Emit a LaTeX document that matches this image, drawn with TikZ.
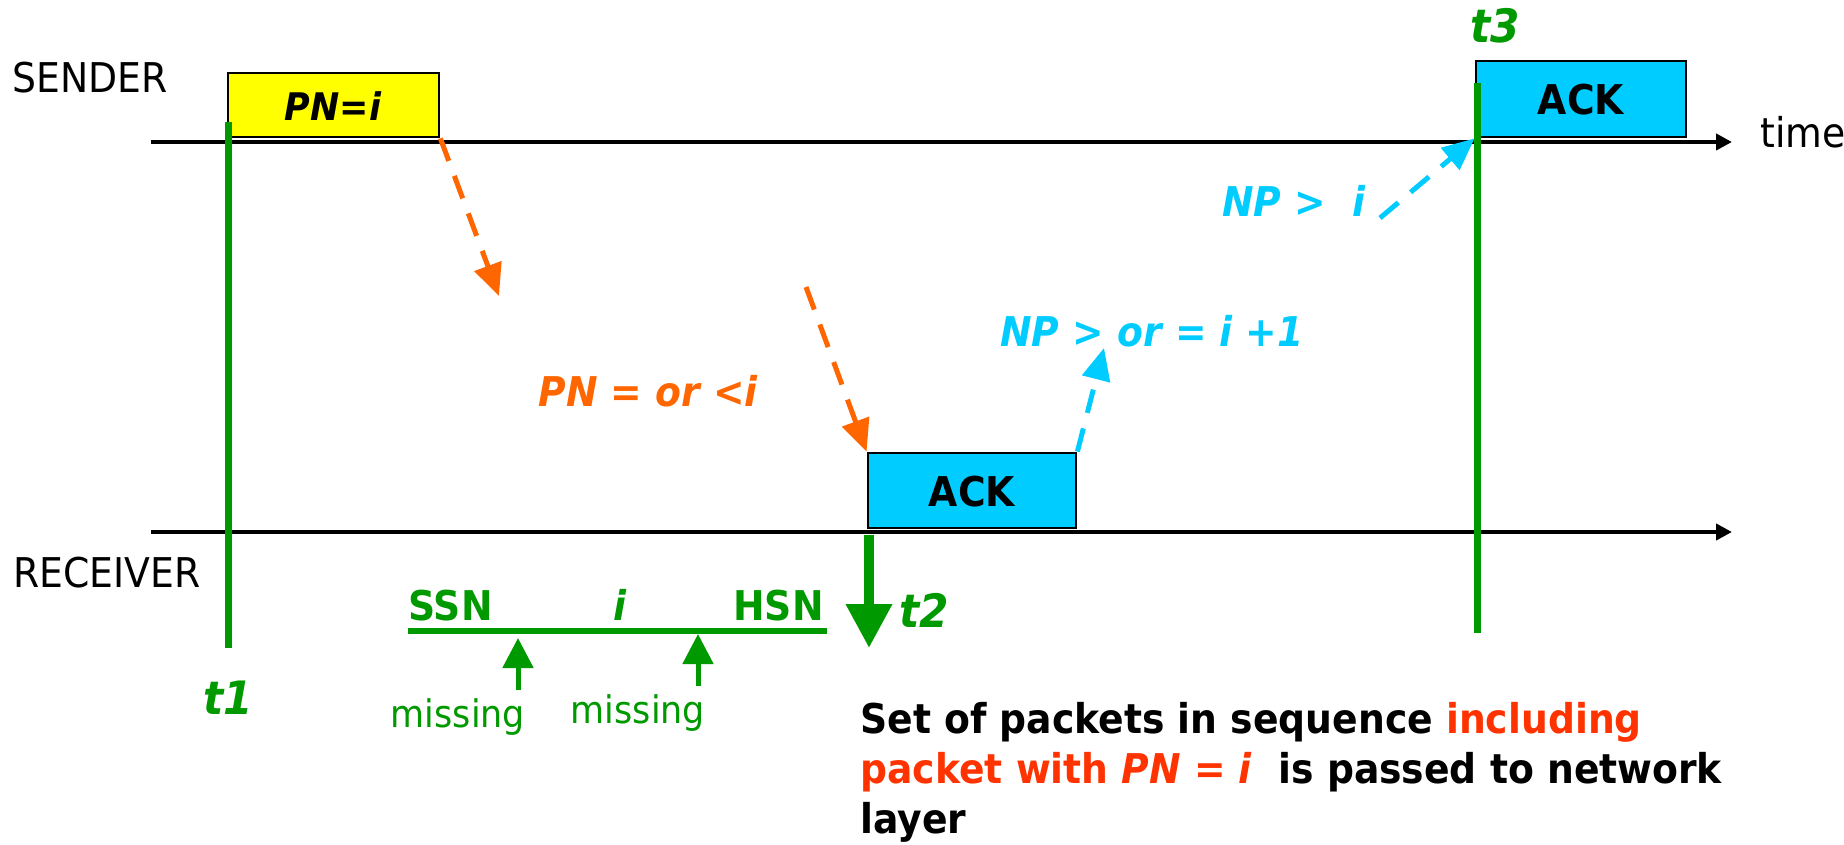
\documentclass[tikz,border=0pt]{standalone}
\usepackage{fontspec}
\setmainfont{DejaVu Sans}[FakeStretch=0.92]
\usetikzlibrary{arrows.meta}
\definecolor{tgreen}{RGB}{0,153,0}
\definecolor{pktyellow}{RGB}{255,255,0}
\definecolor{ackcyan}{RGB}{0,204,255}
\definecolor{dorange}{RGB}{255,102,0}
\definecolor{hired}{RGB}{255,51,0}
\tikzset{
  lbl/.style={inner sep=0pt, font=\fontsize{20.5}{24}\selectfont},
  blbl/.style={inner sep=0pt, font=\fontsize{20.5}{24}\selectfont\bfseries},
  bilbl/.style={inner sep=0pt, font=\fontsize{20.5}{24}\selectfont\bfseries\itshape},
  tlbl/.style={inner sep=0pt, text=tgreen, font=\fontsize{23}{26}\selectfont\bfseries\itshape},
  framebox/.style={draw=black, line width=1.4pt, inner sep=0pt},
  timeline/.style={line width=2pt, -{Triangle[length=8pt,width=8pt]}},
  dasharrow/.style={line width=2.5pt, dash pattern=on 12pt off 8pt, -{Triangle[length=16pt,width=14pt]}},
  instant/.style={tgreen, line width=3.5pt},
  uparrow/.style={tgreen, line width=2.5pt, -{Triangle[length=15pt,width=15pt]}}
}
\begin{document}
\begin{tikzpicture}[x=0.5pt,y=-0.5pt]
\useasboundingbox (0,0) rectangle (1844,845);

% time axes
\coordinate (s0) at (151,142);
\coordinate (s1) at (1732,142);
\coordinate (r0) at (151,532);
\coordinate (r1) at (1732,532);
\draw[timeline] (s0) -- (s1);
\draw[timeline] (r0) -- (r1);
\node[lbl, anchor=base west] (sender) at (12,93) {SENDER};
\node[lbl, anchor=base west] (receiver) at (13,588) {RECEIVER};
\node[lbl, anchor=base west] (time) at (1760,148) {time};

% frames
\node[framebox, fill=pktyellow, minimum width=105.5pt, minimum height=32pt] (pkt) at (333.5,105) {};
\node[bilbl, font=\fontsize{19}{22}\selectfont\bfseries\itshape] (pkttxt) at (333,106) {PN=i};
\node[framebox, fill=ackcyan, minimum width=104pt, minimum height=37.5pt] (ack1) at (972,490.5) {};
\node[blbl] (ack1txt) at (972,492) {ACK};
\node[framebox, fill=ackcyan, minimum width=105pt, minimum height=38pt] (ack2) at (1581,99) {};
\node[blbl] (ack2txt) at (1581,100) {ACK};

% instants
\coordinate (t1top) at (228,122);
\coordinate (t1bot) at (228,648);
\draw[instant] (t1top) -- (t1bot);
\node[tlbl, anchor=base] (t1) at (228,714) {t1};
\coordinate (t3top) at (1477,83);
\coordinate (t3bot) at (1477,633);
\draw[instant] (t3top) -- (t3bot);
\node[tlbl, anchor=base] (t3) at (1495,43) {t3};
\coordinate (t2top) at (869,535);
\coordinate (t2bot) at (869,648);
\draw[tgreen, line width=5pt, -{Triangle[length=22pt,width=22pt]}] (t2top) -- (t2bot);
\node[tlbl, anchor=base west] (t2) at (899,627) {t2};

% data packet (lost) and retransmission
\coordinate (lost) at (499,296);
\draw[dasharrow, dorange] (pkt.south east) -- (lost);
\coordinate (retx) at (806,287);
\draw[dasharrow, dorange] (retx) -- (ack1.north west);
\node[bilbl, text=dorange, anchor=base west] (pnle) at (538,407) {PN = or <i};

% acknowledgements
\coordinate (ackmid) at (1104,348);
\draw[dasharrow, ackcyan] (ack1.north east) -- (ackmid);
\node[bilbl, text=ackcyan, anchor=base west] (npge) at (1000,347) {NP > or = i +1};
\coordinate (ackstart) at (1380,218);
\draw[dasharrow, ackcyan] (ackstart) -- (ack2.south west);
\node[bilbl, text=ackcyan, anchor=base west] (npgt) at (1222,217) {NP >\ \ i};

% receive window
\coordinate (w0) at (408,631);
\coordinate (w1) at (827,631);
\draw[tgreen, line width=3pt] (w0) -- (w1);
\node[blbl, text=tgreen, anchor=base west] (ssn) at (408,620) {SSN};
\node[bilbl, text=tgreen, anchor=base] (wi) at (620,620) {i};
\node[blbl, text=tgreen, anchor=base east] (hsn) at (824,620) {HSN};
\coordinate (m1a) at (518,690);
\coordinate (m1b) at (518,638);
\coordinate (m2a) at (698,686);
\coordinate (m2b) at (698,634);
\draw[uparrow] (m1a) -- (m1b);
\draw[uparrow] (m2a) -- (m2b);
\node[lbl, text=tgreen, anchor=base, font=\fontsize{19}{22}\selectfont] (miss1) at (458,727) {missing};
\node[lbl, text=tgreen, anchor=base, font=\fontsize{19}{22}\selectfont] (miss2) at (638,723) {missing};

% delivery note
\node[blbl, anchor=base west] (note1) at (860,733) {Set of packets in sequence \textcolor{hired}{including}};
\node[blbl, anchor=base west] (note2) at (860,783) {\textcolor{hired}{packet with \textit{PN = i}}\ \ is passed to network};
\node[blbl, anchor=base west] (note3) at (860,833) {layer};
\end{tikzpicture}
\end{document}
